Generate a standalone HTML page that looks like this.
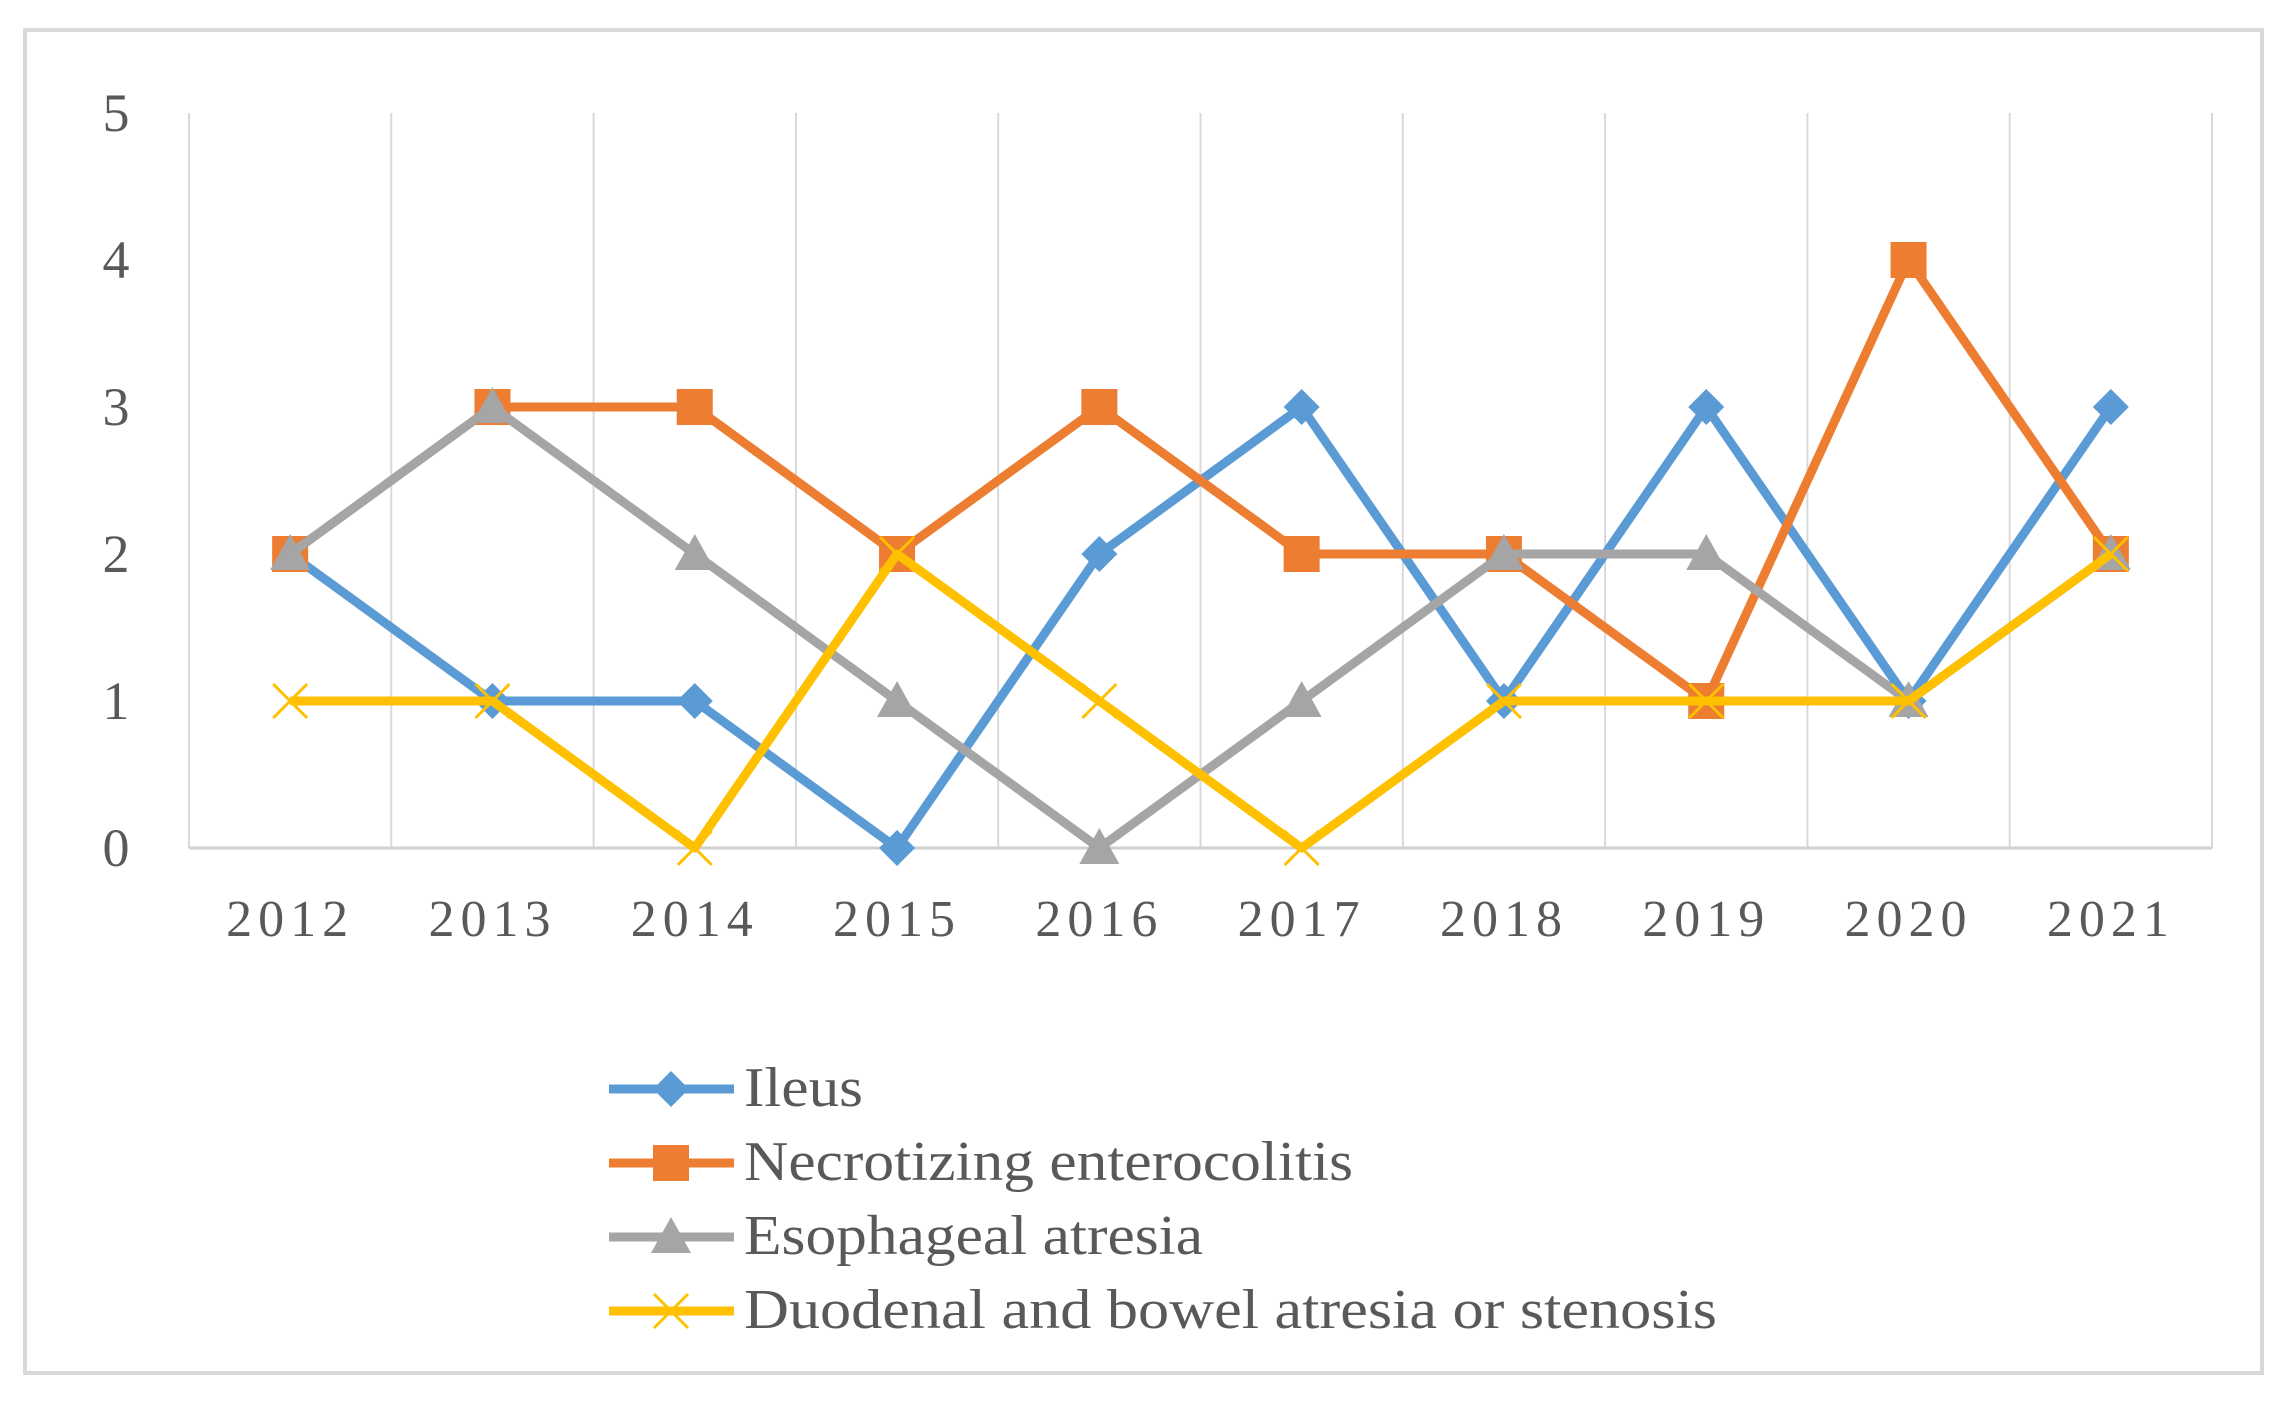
<!DOCTYPE html>
<html><head><meta charset="utf-8"><style>
html,body{margin:0;padding:0;background:#fff;}
svg{display:block;font-family:"Liberation Serif",serif;}
</style></head><body>
<svg id="chart" width="2292" height="1407" viewBox="0 0 2292 1407">
<rect x="25" y="30" width="2237" height="1343" fill="#fff" stroke="#d9d9d9" stroke-width="4"/>
<g id="grid"></g><g id="axes"></g><g id="series"></g><g id="legend"></g>
</svg>
<script>
const categories=["2012","2013","2014","2015","2016","2017","2018","2019","2020","2021"];
const yTicks=[0,1,2,3,4,5];
const seriesNames=["Ileus","Necrotizing enterocolitis","Esophageal atresia","Duodenal and bowel atresia or stenosis"];
const ileus=[2,1,1,0,2,3,1,3,1,3];
const nec=[2,3,3,2,3,2,2,1,4,2];
const eso=[2,3,2,1,0,1,2,2,1,2];
const duo=[1,1,0,2,1,0,1,1,1,2];
const colors=["#5B9BD5","#ED7D31","#A5A5A5","#FFC000"];
const markers=["diamond","square","triangle","x"];
const legendWidths=[119,609,459,973];
const NS="http://www.w3.org/2000/svg";
const L=189,R=2212,T=113,B=848,YMAX=5;
const cw=(R-L)/categories.length;
const xs=i=>L+cw*(i+0.5);
const ys=v=>B-(v/YMAX)*(B-T);
function mk(tag,attrs,parent){const e=document.createElementNS(NS,tag);for(const k in attrs)e.setAttribute(k,attrs[k]);parent.appendChild(e);return e;}
const grid=document.getElementById('grid'),axes=document.getElementById('axes'),ser=document.getElementById('series'),leg=document.getElementById('legend');
for(let i=0;i<=categories.length;i++){
  const g=mk('line',{x1:L+cw*i,x2:L+cw*i,y1:T,y2:B,stroke:'#d9d9d9','stroke-width':2},grid);
  
  
}
const ax=mk('line',{x1:L,x2:R,y1:B,y2:B,stroke:'#d0d0d0','stroke-width':3},axes);


yTicks.forEach(v=>{
  const t=mk('text',{x:116,y:ys(v)+18,'text-anchor':'middle','font-size':54,fill:'#595959'},axes);
  t.textContent=v;
  
  
});
categories.forEach((c,i)=>{
  const t=mk('text',{x:xs(i),y:936,'text-anchor':'middle','font-size':52,fill:'#595959','letter-spacing':6},axes);
  t.textContent=c;
  
  
});
function marker(type,x,y,color,parent){
  let e;
  if(type==='diamond'){e=mk('polygon',{points:`${x},${y-18} ${x+18},${y} ${x},${y+18} ${x-18},${y}`,fill:color},parent);}
  else if(type==='square'){e=mk('rect',{x:x-18,y:y-18,width:36,height:36,fill:color},parent);}
  else if(type==='triangle'){e=mk('polygon',{points:`${x},${y-20} ${x+20},${y+16} ${x-20},${y+16}`,fill:color},parent);}
  else {e=mk('path',{d:`M${x-17},${y-17}L${x+17},${y+17}M${x+17},${y-17}L${x-17},${y+17}`,stroke:color,'stroke-width':3,fill:'none'},parent);}
  return e;
}
[ileus,nec,eso,duo].forEach((data,s)=>{
  const g=mk('g',{},ser);
  
  
  const pl=mk('polyline',{points:data.map((v,i)=>xs(i)+','+ys(v)).join(' '),fill:'none',stroke:colors[s],'stroke-width':9,'stroke-linejoin':'round'},g);
  
  
  data.forEach((v,i)=>{
    const m=marker(markers[s],xs(i),ys(v),colors[s],g);
    
    
  });
});
const legY=[1089,1163,1237,1311];
seriesNames.forEach((n,s)=>{
  const g=mk('g',{},leg);
  
  
  mk('line',{x1:609,x2:734,y1:legY[s],y2:legY[s],stroke:colors[s],'stroke-width':9},g);
  marker(markers[s],671,legY[s],colors[s],g);
  const t=mk('text',{x:744,y:legY[s]+17,'font-size':56,fill:'#595959',textLength:legendWidths[s],lengthAdjust:'spacingAndGlyphs'},g);
  t.textContent=n;
});
</script>
</body></html>
